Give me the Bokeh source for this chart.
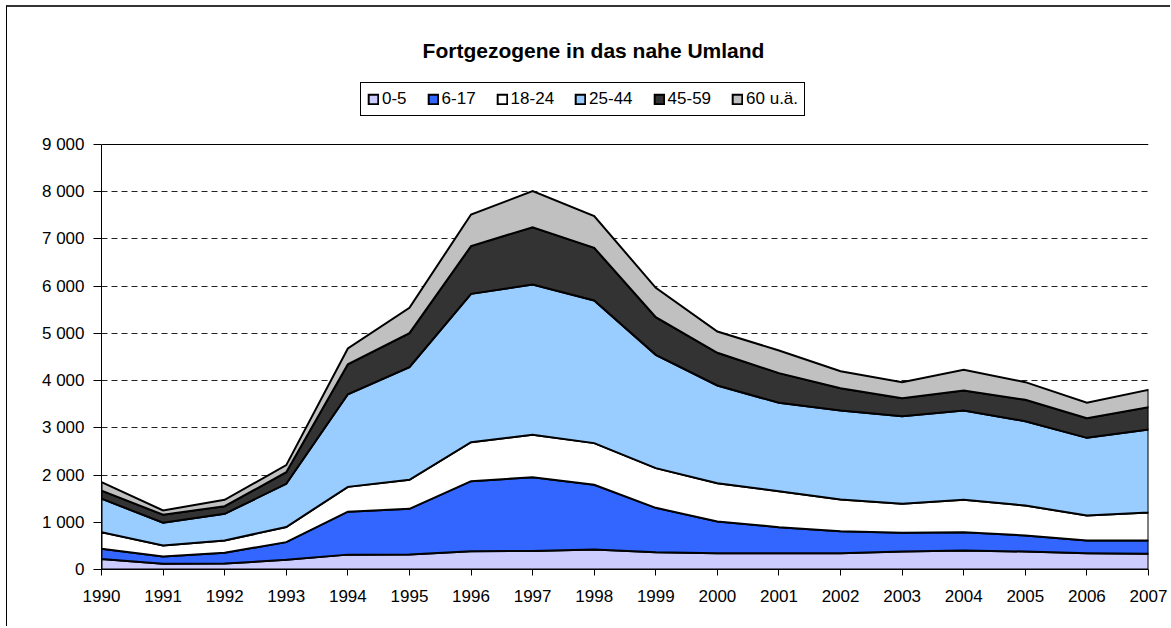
from bokeh.plotting import figure
from bokeh.models import FixedTicker, Legend, LegendItem, Span, Label
from bokeh.embed import file_html
from bokeh.resources import INLINE

# ---- data ----
years = list(range(1990, 2008))
series_names = ["0-5", "6-17", "18-24", "25-44", "45-59", "60 u.ä."]
s0_5 = [220, 120, 125, 205, 315, 318, 388, 390, 424, 367, 346, 346, 346, 381, 402, 381, 346, 332]
s6_17 = [220, 155, 230, 375, 910, 967, 1483, 1565, 1369, 939, 671, 551, 466, 395, 388, 339, 268, 282]
s18_24 = [350, 235, 260, 320, 525, 615, 826, 897, 883, 840, 811, 762, 670, 615, 686, 635, 529, 593]
s25_44 = [710, 480, 565, 915, 1960, 2385, 3141, 3183, 3021, 2400, 2069, 1871, 1885, 1856, 1891, 1786, 1645, 1758]
s45_59 = [170, 170, 160, 245, 635, 720, 1010, 1214, 1116, 797, 692, 628, 473, 381, 424, 452, 417, 472]
s60 = [180, 90, 135, 150, 335, 536, 670, 763, 670, 622, 451, 480, 360, 339, 438, 374, 325, 368]
y_ticks = [0, 1000, 2000, 3000, 4000, 5000, 6000, 7000, 8000, 9000]
y_tick_labels = ["0", "1 000", "2 000", "3 000", "4 000", "5 000", "6 000", "7 000", "8 000", "9 000"]
y_max = 9000
title_text = "Fortgezogene in das nahe Umland"

colors = ["#CCCCFF", "#3366FF", "#FFFFFF", "#99CCFF", "#333333", "#C0C0C0"]
FONT = "Liberation Sans"

# layout (pixels)
W, H = 1164, 621
ML, MR, MT, MB = 94, 23, 0, 59
frame_h = H - MT - MB          # full frame height
axis_h = 425                    # height of the 0..9000 part
y_end = y_max * frame_h / axis_h

p = figure(width=W, height=H, x_range=(1990, 2007), y_range=(0, y_end),
           output_backend="svg", toolbar_location=None,
           min_border_left=ML, min_border_right=MR, min_border_top=MT, min_border_bottom=MB)
p.styles = {"margin-left": "6px", "margin-top": "5px",
            "border-left": "1px solid black", "border-top": "2px solid #333333"}
p.outline_line_color = None
p.background_fill_color = "white"
p.border_fill_color = "white"

# stacked areas as outlined polygons
all_series = [s0_5, s6_17, s18_24, s25_44, s45_59, s60]
base = [0] * len(years)
items = []
for name, vals, col in zip(series_names, all_series, colors):
    top = [b + v for b, v in zip(base, vals)]
    xs = years + years[::-1]
    ys = top + base[::-1]
    r = p.patch(xs, ys, fill_color=col, line_color="black", line_width=2, line_join="miter")
    items.append(LegendItem(label=name, renderers=[r]))
    base = top

# grid
p.xgrid.visible = False
p.ygrid.ticker = FixedTicker(ticks=y_ticks[1:-1])
p.ygrid.grid_line_color = "#222222"
p.ygrid.grid_line_dash = "6 4"
p.ygrid.grid_line_width = 1
p.add_layout(Span(location=y_max, dimension="width", line_color="black", line_width=1))

# axes
p.yaxis.ticker = FixedTicker(ticks=y_ticks)
p.yaxis.bounds = (0, y_max)
p.yaxis.major_label_overrides = {t: l for t, l in zip(y_ticks, y_tick_labels)}
p.xaxis.ticker = FixedTicker(ticks=years)
for ax in (p.xaxis[0], p.yaxis[0]):
    ax.axis_line_color = "black"
    ax.axis_line_width = 1
    ax.major_tick_line_color = "black"
    ax.major_tick_in = 0
    ax.minor_tick_line_color = None
    ax.major_label_text_font = FONT
    ax.major_label_text_font_size = "17px"
    ax.major_label_text_color = "black"
p.yaxis.major_tick_out = 8
p.yaxis.major_label_standoff = 9
p.xaxis.major_tick_out = 6
p.xaxis.major_label_standoff = 14

# title (inside the tall frame, above the 9000 line)
p.add_layout(Label(x=492, y=519, x_units="screen", y_units="screen", text=title_text,
                   text_font=FONT, text_font_size="21px", text_font_style="bold",
                   text_align="center", text_baseline="alphabetic", text_color="black"))

# legend
legend = Legend(items=items, orientation="horizontal", location=(259, 453),
                glyph_width=12, glyph_height=12, label_standoff=3, spacing=20,
                padding=6, margin=0, label_text_font=FONT, label_text_font_size="17px",
                label_text_color="black", label_height=20,
                border_line_color="black", border_line_width=1, border_line_alpha=1.0,
                background_fill_color="white", background_fill_alpha=1.0)
p.add_layout(legend, "center")

open("out.html", "w").write(file_html(p, INLINE))
